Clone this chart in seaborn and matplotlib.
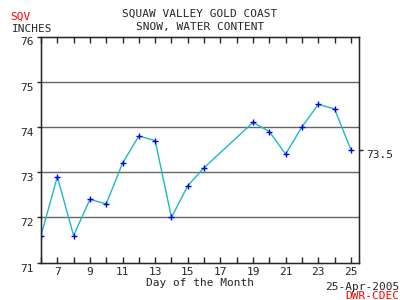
import matplotlib
matplotlib.use("Agg")
import matplotlib.pyplot as plt
from matplotlib.transforms import ScaledTranslation
import seaborn as sns
import pandas as pd

days = [6, 7, 8, 9, 10, 11, 12, 13, 14, 15, 16, 19, 20, 21, 22, 23, 24, 25]
values = [71.6, 72.9, 71.6, 72.4, 72.3, 73.2, 73.8, 73.7, 72.0, 72.7, 73.1,
          74.1, 73.9, 73.4, 74.0, 74.5, 74.4, 73.5]
y_ticks = [71, 72, 73, 74, 75, 76]
x_label_ticks = [7, 9, 11, 13, 15, 17, 19, 21, 23, 25]
last_value = 73.5

sns.set_style("white")
plt.rcParams['font.family'] = ['DejaVu Sans Mono']

df = pd.DataFrame({"day": days, "value": values})

fig = plt.figure(figsize=(4, 3), dpi=100)
ax = fig.add_axes([0.1025, 0.1243, 0.795, 0.754])

for y in [72, 73, 74, 75]:
    ax.axhline(y, color="#666666", lw=1.0, zorder=1)

sns.lineplot(data=df, x="day", y="value", ax=ax, color="#20b8c0", lw=1.0,
             zorder=2, estimator=None, sort=False)
ax.plot(df["day"], df["value"], ls="none", marker="+", color="#0000ee",
        ms=4, mew=1.0, zorder=3)

ax.set_xlim(6, 25.5)
ax.set_ylim(71, 76)
ax.set_yticks(y_ticks)
ax.set_yticklabels([str(t) for t in y_ticks], fontsize=8)
ax.set_xticks(x_label_ticks)
ax.set_xticklabels([str(t) for t in x_label_ticks], fontsize=8)
ax.set_xticks(list(range(6, 26)), minor=True)
ax.tick_params(axis="x", which="both", direction="in", top=True, bottom=True,
               length=4, width=1, pad=3)
ax.tick_params(axis="y", which="major", direction="out", left=True, length=3,
               width=1, pad=2)
for s in ax.spines.values():
    s.set_color("black")
    s.set_linewidth(1.0)
ax.set_xlabel("Day of the Month", fontsize=8, labelpad=1)
ax.set_ylabel("")

shift = ScaledTranslation(0, -3.5 / 72, fig.dpi_scale_trans)
for lbl in ax.get_yticklabels():
    lbl.set_transform(lbl.get_transform() + shift)

ax2 = ax.twinx()
ax2.set_ylim(71, 76)
ax2.set_yticks([last_value])
ax2.set_yticklabels([f"{last_value}"], fontsize=8)
ax2.tick_params(axis="y", direction="out", length=3, width=1, pad=2)
for lbl in ax2.get_yticklabels():
    lbl.set_transform(lbl.get_transform() + shift)

fig.text(0.5, 0.955, "SQUAW VALLEY GOLD COAST", ha="center", va="center", fontsize=8)
fig.text(0.5, 0.91, "SNOW, WATER CONTENT", ha="center", va="center", fontsize=8)
fig.text(0.025, 0.945, "SQV", ha="left", va="center", fontsize=8, color="red")
fig.text(0.03, 0.905, "INCHES", ha="left", va="center", fontsize=8)
fig.text(0.998, 0.045, "25-Apr-2005", ha="right", va="center", fontsize=8)
fig.text(0.998, 0.012, "DWR-CDEC", ha="right", va="center", fontsize=8, color="red")

fig.savefig("out.png", dpi=100, facecolor="white")
